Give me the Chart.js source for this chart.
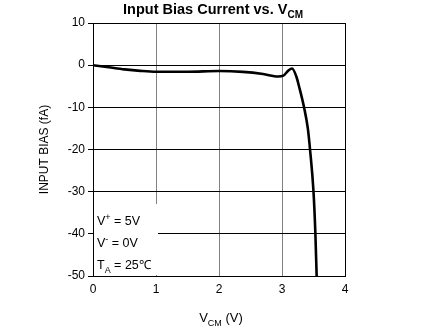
<!DOCTYPE html>
<html>
<head>
<meta charset="utf-8">
<script src="https://cdn.jsdelivr.net/npm/chart.js@4"></script>
<style>
  html, body { margin: 0; padding: 0; background: #fff; }
</style>
</head>
<body>
<canvas id="biasChart" width="440" height="329"></canvas>
<script>
// input bias current (fA) against common-mode voltage (V)
const vcm    = [0, 0.25, 0.5, 0.75, 1.0, 1.5, 2.0, 2.38, 2.7, 2.94, 3.02, 3.1, 3.16, 3.23, 3.27, 3.35, 3.41, 3.445, 3.5, 3.53, 3.55];
const biasFA = [0, -0.5, -1.0, -1.35, -1.55, -1.55, -1.4, -1.6, -2.1, -2.7, -2.5, -1.3, -0.8, -2.8, -5.0, -10, -15, -20, -30, -40, -50];

const xTicks = [0, 1, 2, 3, 4];
const yTicks = [10, 0, -10, -20, -30, -40, -50];

// test conditions, each line split into [text, 'sup' | 'sub' | '']
const conditions = [
    [['V', ''], ['+', 'sup'], [' = 5V', '']],
    [['V', ''], ['-', 'sup'], [' = 0V', '']],
    [['T', ''], ['A', 'sub'], [' = 25\u2103', '']]
];

const FONT = "'Liberation Sans', Arial, sans-serif";

// draws a run of text with small raised/lowered pieces, returns end x
function drawRich(ctx, parts, x, y, size, weight) {
    parts.forEach(([txt, kind]) => {
        const s = kind ? Math.round(size * 0.72) : size;
        ctx.font = `${weight} ${s}px ${FONT}`;
        let dy = 0;
        if (kind === 'sup') dy = -size * 0.4;
        if (kind === 'sub') dy = size * 0.3;
        ctx.fillText(txt, x, y + dy);
        x += ctx.measureText(txt).width;
    });
    return x;
}

function richWidth(ctx, parts, size, weight) {
    let w = 0;
    parts.forEach(([txt, kind]) => {
        const s = kind ? Math.round(size * 0.72) : size;
        ctx.font = `${weight} ${s}px ${FONT}`;
        w += ctx.measureText(txt).width;
    });
    return w;
}

const decorations = {
    id: 'decorations',
    beforeDatasetsDraw(chart) {
        const {ctx, chartArea} = chart;
        // white panel behind the conditions text
        ctx.save();
        ctx.fillStyle = '#fff';
        ctx.fillRect(chartArea.left + 1, chartArea.bottom - 72, 64, 71);
        ctx.restore();
    },
    afterDraw(chart) {
        const {ctx, chartArea} = chart;
        ctx.save();
        ctx.strokeStyle = '#000';
        ctx.lineWidth = 1;
        ctx.strokeRect(Math.round(chartArea.left) + 0.5, Math.round(chartArea.top) + 0.5,
            Math.round(chartArea.right - chartArea.left), Math.round(chartArea.bottom - chartArea.top));

        ctx.fillStyle = '#000';
        ctx.textBaseline = 'alphabetic';
        ctx.textAlign = 'left';

        // title
        const title = [['Input Bias Current vs. V', ''], ['CM', 'sub']];
        const tw = richWidth(ctx, title, 14.5, 'bold');
        drawRich(ctx, title, 213 - tw / 2, 14, 14.5, 'bold');

        // x axis title
        const xt = [['V', ''], ['CM', 'sub'], [' (V)', '']];
        const xw = richWidth(ctx, xt, 13, 'normal');
        drawRich(ctx, xt, 221 - xw / 2, 322, 13, 'normal');

        // conditions
        conditions.forEach((line, i) => {
            drawRich(ctx, line, chartArea.left + 4, chartArea.bottom - 51 + i * 22, 12.5, 'normal');
        });
        ctx.restore();
    }
};

new Chart(document.getElementById('biasChart').getContext('2d'), {
    type: 'line',
    data: {
        datasets: [{
            data: vcm.map((v, i) => ({x: v, y: biasFA[i]})),
            borderColor: '#000',
            borderWidth: 2.6,
            pointRadius: 0,
            cubicInterpolationMode: 'monotone',
            fill: false
        }]
    },
    options: {
        responsive: false,
        animation: false,
        layout: { padding: { top: 23, right: 95, bottom: 0, left: 0 } },
        plugins: {
            legend: { display: false },
            tooltip: { enabled: false }
        },
        scales: {
            x: {
                type: 'linear',
                min: xTicks[0],
                max: xTicks[xTicks.length - 1],
                afterBuildTicks: s => { s.ticks = xTicks.map(v => ({value: v})); },
                afterFit: s => { s.height = 53; },
                ticks: { color: '#000', padding: 6, font: { family: FONT, size: 12 } },
                grid: { color: '#808080', drawTicks: false },
                border: { color: '#000' }
            },
            y: {
                min: yTicks[yTicks.length - 1],
                max: yTicks[0],
                afterBuildTicks: s => { s.ticks = yTicks.slice().reverse().map(v => ({value: v})); },
                afterFit: s => { s.width = 93; },
                ticks: { color: '#000', padding: 3, font: { family: FONT, size: 12 } },
                grid: { color: '#000', tickLength: 5 },
                border: { color: '#000' },
                title: {
                    display: true,
                    text: 'INPUT BIAS (fA)',
                    color: '#000',
                    font: { family: FONT, size: 12 },
                    padding: { top: 37, bottom: 0 }
                }
            }
        }
    },
    plugins: [decorations]
});
</script>
</body>
</html>
